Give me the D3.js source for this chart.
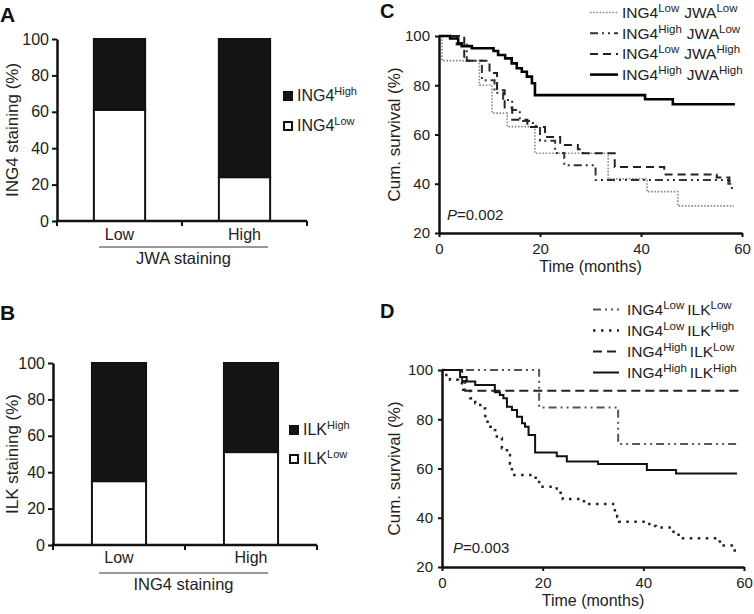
<!DOCTYPE html>
<html><head><meta charset="utf-8">
<script src="https://cdn.jsdelivr.net/npm/d3@7"></script>
<style>
body{margin:0;background:#fff;}
svg{font-family:"Liberation Sans",Arial,Helvetica,sans-serif;}
</style></head><body>
<svg id="chart" width="754" height="614"></svg>
<script>
// ---------- Data ----------
const stainGroups = ["Low", "High"];
// Panel A: ING4 staining (%) by JWA staining
const ing4LowByJWA  = [61, 24];
const ing4HighByJWA = [39, 76];
// Panel B: ILK staining (%) by ING4 staining
const ilkLowByING4  = [35, 51];
const ilkHighByING4 = [65, 49];
const yTicksBar = [0, 20, 40, 60, 80, 100];
const yTicksKM = [20, 40, 60, 80, 100];
const xTicksKM = [0, 20, 40, 60];

// Panel C: Kaplan-Meier, ING4 x JWA  (time in months, cumulative survival %)
const cLegend = [[["ING4","Low"],["JWA","Low"]], [["ING4","High"],["JWA","Low"]], [["ING4","Low"],["JWA","High"]], [["ING4","High"],["JWA","High"]]];
const cLowLow_t  = [0,0.6,8,10.5,13.5,19,33.5,41.2,47.3,58.4];
const cLowLow_s  = [100,90,80,68.7,63.2,52.4,42,36.8,31,31];
const cHighLow_t = [0,3.5,5.5,8.5,11,12.7,14.5,16,18.6,20,23,24.8,31,57.3,58,58.6];
const cHighLow_s = [100,96.5,90,82,77,74,70,65.5,63.5,57.5,52.5,47.5,41.5,40,37.5,37.5];
const cLowHigh_t = [0,5,10,11.5,13,14.5,17.5,21,24,27.5,28.5,34.8,44.6,55,57.5,58.6];
const cLowHigh_s = [100,90,85,78,71,66,63,59,55.7,54,52.4,46.8,43.8,42.5,41,41];
const cHighHigh_t = [0,2.2,3.8,4.5,6.5,10.8,11.7,13.1,14.4,15.4,16.4,17.4,18.4,19,40.8,46.3,58.6];
const cHighHigh_s = [100,99,97,95.9,95,93.9,92.3,90.9,88.9,86.9,85.5,83.5,80.8,76,74.3,72.3,72.3];
const cPValue = "=0.002";

// Panel D: Kaplan-Meier, ING4 x ILK
const dLegend = [[["ING4","Low"],["ILK","Low"]], [["ING4","Low"],["ILK","High"]], [["ING4","High"],["ILK","Low"]], [["ING4","High"],["ILK","High"]]];
const dLowLow_t  = [0,19.3,35,58.7];
const dLowLow_s  = [100,84.8,70,70];
const dLowHigh_t = [0,0.5,1.6,3.2,4.2,5.6,6.6,7.6,8.6,9.6,10.5,10.9,11.9,12.9,13.5,13.9,18.6,19.3,22.8,24,28.2,34,34.8,35.2,41.2,42.5,46,47,55.2,57.6,58.5];
const dLowHigh_s = [100,98,96,94.6,92,88.5,86.5,84.4,79,77,75.6,72.3,68.2,65.5,62,57.4,55,52.6,50.2,47.6,45.6,43,40.4,38.4,36.6,36,33.7,31.7,28.7,26.7,26.7];
const dHighLow_t = [0,4,4.6,59.3];
const dHighLow_s = [100,95.5,91.6,91.6];
const dHighHigh_t = [0,3.6,4.9,6.6,10.5,11.5,12.2,12.9,13.9,14.9,15.9,16.5,17.2,18.5,22.8,24.8,31,40.7,46.5,58.6];
const dHighHigh_s = [100,97.2,95.3,93.9,91,89.8,88.5,85.1,83.8,81,78.4,77,73.6,66.5,65,62.8,61.8,59.4,58,58];
const dPValue = "=0.003";

// ---------- Drawing ----------
const FONT = '"Liberation Sans", Arial, Helvetica, sans-serif';
const INK = "#222";
const svg = d3.select("#chart");

function supText(sel, parts, main, sup, gap) {
  parts.forEach((p, i) => {
    sel.append("tspan").attr("font-size", main).attr("dx", i === 0 ? 0 : gap).attr("dy", i === 0 ? 0 : main*0.4).text(p[0]);
    sel.append("tspan").attr("font-size", sup).attr("dy", -main*0.4).text(p[1]);
  });
}

function barPanel(cfg) {
  const g = svg.append("g");
  const x = d3.scaleBand().domain(cfg.groups).range([cfg.x0, cfg.x1]).paddingInner(0.59).paddingOuter(0.295);
  const y = d3.scaleLinear().domain([0, 100]).range([cfg.yb, cfg.yt]);
  const rows = cfg.groups.map((k, i) => ({k, low: cfg.low[i], high: cfg.high[i]}));
  g.selectAll("rect.hi").data(rows).join("rect").attr("class","hi")
    .attr("x", d => x(d.k)).attr("width", x.bandwidth())
    .attr("y", d => y(d.low + d.high)).attr("height", d => y(d.low) - y(d.low + d.high))
    .attr("fill", "#151515").attr("stroke", "#111").attr("stroke-width", 2);
  g.selectAll("rect.lo").data(rows).join("rect").attr("class","lo")
    .attr("x", d => x(d.k)).attr("width", x.bandwidth())
    .attr("y", d => y(d.low)).attr("height", d => y(0) - y(d.low))
    .attr("fill", "#fff").attr("stroke", "#111").attr("stroke-width", 2);
  const ya = g.append("g").attr("transform", `translate(${cfg.x0},0)`)
    .call(d3.axisLeft(y).tickValues(yTicksBar).tickSize(5).tickSizeOuter(0).tickPadding(3));
  ya.attr("font-family", FONT).attr("font-size", 16);
  ya.select(".domain").attr("stroke", "#111").attr("stroke-width", 2.5);
  ya.selectAll(".tick line").attr("stroke", "#111").attr("stroke-width", 2);
  ya.selectAll("text").attr("fill", INK);
  g.append("line").attr("x1", cfg.x0 - 1.2).attr("x2", cfg.x1).attr("y1", cfg.yb).attr("y2", cfg.yb)
    .attr("stroke", "#111").attr("stroke-width", 2.5);
  const bounds = d3.range(cfg.groups.length + 1).map(i => cfg.x0 + i * x.step());
  g.selectAll("line.bt").data(bounds).join("line").attr("class","bt")
    .attr("x1", d => d).attr("x2", d => d).attr("y1", cfg.yb).attr("y2", cfg.yb + 5)
    .attr("stroke", "#111").attr("stroke-width", 2);
  g.selectAll("text.cat").data(cfg.groups).join("text").attr("class","cat")
    .attr("x", d => x(d) + x.bandwidth()/2).attr("y", cfg.yb + cfg.catDy)
    .attr("text-anchor", "middle").attr("font-size", 16).attr("fill", INK).text(d => d);
  g.append("line").attr("x1", cfg.ulX0).attr("x2", cfg.ulX1).attr("y1", cfg.yb + cfg.ulDy).attr("y2", cfg.yb + cfg.ulDy)
    .attr("stroke", "#777").attr("stroke-width", 1.3);
  g.append("text").attr("x", (cfg.ulX0 + cfg.ulX1)/2).attr("y", cfg.yb + cfg.titleDy)
    .attr("text-anchor", "middle").attr("font-size", 16.5).attr("fill", INK).text(cfg.xTitle);
  g.append("text").attr("transform", `translate(${cfg.ylX},${(cfg.yb + cfg.yt)/2}) rotate(-90)`)
    .attr("text-anchor", "middle").attr("font-size", 17).attr("fill", INK).text(cfg.yTitle);
  cfg.legend.forEach((lab, i) => {
    const ly = cfg.legY + i * cfg.legStep;
    g.append("rect").attr("x", cfg.legX).attr("y", ly - 9).attr("width", 8).attr("height", 8)
      .attr("fill", i === 0 ? "#151515" : "#fff").attr("stroke", "#111").attr("stroke-width", 2);
    const t = g.append("text").attr("x", cfg.legX + 13).attr("y", ly).attr("fill", INK);
    supText(t, [lab], 16, 11, 4);
  });
  g.append("text").attr("x", cfg.letterX).attr("y", cfg.letterY).attr("font-size", 21).attr("font-weight", "bold").attr("fill", "#111").text(cfg.letter);
}

function kmPanel(cfg) {
  const g = svg.append("g");
  const x = d3.scaleLinear().domain([0, 60]).range([cfg.x0, cfg.x1]);
  const y = d3.scaleLinear().domain([20, 100]).range([cfg.yb, cfg.yt]);
  const line = d3.line().x(d => x(d[0])).y(d => y(d[1])).curve(d3.curveStepAfter);
  cfg.series.forEach(s => {
    g.append("path").attr("d", line(d3.zip(s.t, s.s))).attr("fill", "none")
      .attr("stroke", s.color).attr("stroke-width", s.width).attr("stroke-dasharray", s.dash);
  });
  const ya = g.append("g").attr("transform", `translate(${cfg.x0},0)`)
    .call(d3.axisLeft(y).tickValues(yTicksKM).tickSize(4).tickSizeOuter(0).tickPadding(5));
  const xa = g.append("g").attr("transform", `translate(0,${cfg.yb})`)
    .call(d3.axisBottom(x).tickValues(xTicksKM).tickSize(4).tickSizeOuter(0).tickPadding(6));
  [ya, xa].forEach(a => {
    a.attr("font-family", FONT).attr("font-size", 15);
    a.select(".domain").attr("stroke", "#111").attr("stroke-width", 2.5);
    a.selectAll(".tick line").attr("stroke", "#111").attr("stroke-width", 2);
    a.selectAll("text").attr("fill", INK);
  });
  g.append("text").attr("x", (cfg.x0 + cfg.x1)/2).attr("y", cfg.yb + 39).attr("text-anchor", "middle")
    .attr("font-size", 16).attr("fill", INK).text("Time (months)");
  g.append("text").attr("transform", `translate(${cfg.ylX},${(cfg.yb + cfg.yt)/2}) rotate(-90)`)
    .attr("text-anchor", "middle").attr("font-size", 17).attr("fill", INK).text("Cum. survival (%)");
  const p = g.append("text").attr("x", cfg.pX).attr("y", cfg.pY).attr("font-size", 15).attr("fill", INK);
  p.append("tspan").attr("font-style", "italic").text("P");
  p.append("tspan").text(cfg.pValue);
  cfg.series.forEach((s, i) => {
    const ly = cfg.legY + i * cfg.legStep;
    g.append("line").attr("x1", cfg.legLX0).attr("x2", cfg.legLX1).attr("y1", ly - 5.5).attr("y2", ly - 5.5)
      .attr("stroke", s.color).attr("stroke-width", s.width).attr("stroke-dasharray", s.dash);
    const t = g.append("text").attr("x", cfg.legTX).attr("y", ly).attr("fill", INK);
    supText(t, cfg.legend[i], 15.5, 11.5, cfg.legGap);
  });
  g.append("text").attr("x", cfg.letterX).attr("y", cfg.letterY).attr("font-size", 20).attr("font-weight", "bold").attr("fill", "#111").text(cfg.letter);
}

barPanel({letter: "A", letterX: 0, letterY: 22, groups: stainGroups, low: ing4LowByJWA, high: ing4HighByJWA,
  x0: 57, x1: 307, yt: 39, yb: 221, catDy: 19, ulX0: 99, ulX1: 268, ulDy: 26, titleDy: 43,
  xTitle: "JWA staining", yTitle: "ING4 staining (%)", ylX: 18,
  legend: [["ING4","High"], ["ING4","Low"]], legX: 284, legY: 101, legStep: 30});

barPanel({letter: "B", letterX: 0, letterY: 320, groups: stainGroups, low: ilkLowByING4, high: ilkHighByING4,
  x0: 53, x1: 317, yt: 363, yb: 545, catDy: 18, ulX0: 99, ulX1: 268, ulDy: 28, titleDy: 45,
  xTitle: "ING4 staining", yTitle: "ILK staining (%)", ylX: 18,
  legend: [["ILK","High"], ["ILK","Low"]], legX: 290, legY: 435, legStep: 29});

kmPanel({letter: "C", letterX: 380, letterY: 18, x0: 439, x1: 742, yt: 36, yb: 233, ylX: 400,
  pX: 447, pY: 220, pValue: cPValue, legend: cLegend, legLX0: 590, legLX1: 618, legTX: 622, legY: 18, legStep: 20.7, legGap: 5,
  series: [
    {t: cLowLow_t, s: cLowLow_s, color: "#8a8a8a", width: 1.6, dash: "1.6,1.6"},
    {t: cHighLow_t, s: cHighLow_s, color: "#333", width: 2, dash: "8,4,2,4,2,4"},
    {t: cLowHigh_t, s: cLowHigh_s, color: "#222", width: 2, dash: "8,5"},
    {t: cHighHigh_t, s: cHighHigh_s, color: "#000", width: 2.6, dash: null}
  ]});

kmPanel({letter: "D", letterX: 380, letterY: 318, x0: 442, x1: 744, yt: 370, yb: 567, ylX: 400,
  pX: 453, pY: 553, pValue: dPValue, legend: dLegend, legLX0: 593, legLX1: 619, legTX: 627, legY: 315, legStep: 21, legGap: 3,
  series: [
    {t: dLowLow_t, s: dLowLow_s, color: "#555", width: 2, dash: "8,4,2,4,2,4"},
    {t: dLowHigh_t, s: dLowHigh_s, color: "#222", width: 2.5, dash: "2.5,5.5"},
    {t: dHighLow_t, s: dHighLow_s, color: "#222", width: 2, dash: "9,5"},
    {t: dHighHigh_t, s: dHighHigh_s, color: "#111", width: 2, dash: null}
  ]});
</script>
</body></html>
